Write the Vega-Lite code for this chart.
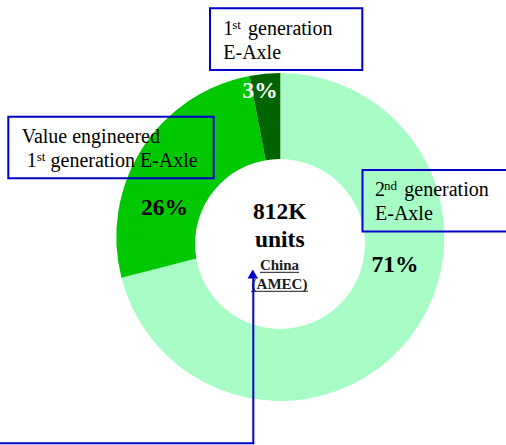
{
  "$schema": "https://vega.github.io/schema/vega-lite/v6.json",
  "width": 506,
  "height": 445,
  "padding": 0,
  "autosize": "none",
  "background": "white",
  "config": {"view": {"stroke": null}, "font": "'Liberation Serif', 'Times New Roman', 'DejaVu Serif', serif"},
  "datasets": {
    "slices": [
      {"segment": "2nd generation E-Axle", "share": 71, "ord": 1},
      {"segment": "Value engineered 1st generation E-Axle", "share": 26, "ord": 2},
      {"segment": "1st generation E-Axle", "share": 3, "ord": 3}
    ],
    "boxes": [
      {"x": 210, "x2": 362.3, "y": 8.3, "y2": 70},
      {"x": 8.3, "x2": 213.7, "y": 116.7, "y2": 178.3},
      {"x": 362.5, "x2": 520, "y": 170, "y2": 231.5}
    ],
    "labels": [
      {"t": "1", "x": 223.3, "y": 35},
      {"t": "generation", "x": 248, "y": 35},
      {"t": "E-Axle", "x": 223.3, "y": 58.5},
      {"t": "Value engineered", "x": 21.7, "y": 142.5},
      {"t": "1", "x": 26.7, "y": 166.5},
      {"t": "generation E-Axle", "x": 50.5, "y": 166.5},
      {"t": "2", "x": 375, "y": 196},
      {"t": "generation", "x": 404.3, "y": 196},
      {"t": "E-Axle", "x": 375, "y": 219.5}
    ],
    "sups": [
      {"t": "st", "x": 232.3, "y": 29},
      {"t": "st", "x": 36.7, "y": 160.5},
      {"t": "nd", "x": 384, "y": 190}
    ],
    "pctWhite": [
      {"t": "3%", "x": 260, "y": 98.3}
    ],
    "pctBlack": [
      {"t": "26%", "x": 164.5, "y": 215},
      {"t": "71%", "x": 395, "y": 271.7},
      {"t": "812K", "x": 279.7, "y": 219.3},
      {"t": "units", "x": 279.7, "y": 247.3}
    ],
    "small": [
      {"t": "China", "x": 279.5, "y": 270},
      {"t": "(AMEC)", "x": 279.5, "y": 289}
    ],
    "underlines": [
      {"x": 260, "x2": 299, "y": 272.3},
      {"x": 251, "x2": 308, "y": 291.3}
    ],
    "arrow": [
      {"x": 253.3, "x2": 253.3, "y": 443.3, "y2": 277},
      {"x": 0, "x2": 254.3, "y": 443.3, "y2": 443.3}
    ],
    "head": [{"x": 252.8, "y": 274}]
  },
  "layer": [
    {
      "data": {"name": "slices"},
      "mark": {"type": "arc", "outerRadius": 164, "stroke": null},
      "encoding": {
        "theta": {"field": "share", "type": "quantitative", "stack": true},
        "order": {"field": "ord", "type": "quantitative"},
        "color": {
          "field": "segment", "type": "nominal", "legend": null,
          "scale": {
            "domain": ["2nd generation E-Axle", "Value engineered 1st generation E-Axle", "1st generation E-Axle"],
            "range": ["#A6FCC4", "#00C800", "#006400"]
          }
        },
        "x": {"datum": 280.3, "type": "quantitative", "scale": {"domain": [0, 506], "nice": false, "zero": false}, "axis": null},
        "y": {"datum": 237, "type": "quantitative", "scale": {"domain": [0, 445], "nice": false, "zero": false, "reverse": true}, "axis": null}
      }
    },
    {
      "data": {"values": [{"hole": "center"}]},
      "mark": {"type": "point", "shape": "circle", "filled": true, "color": "white", "opacity": 1, "size": 28900, "strokeWidth": 0},
      "encoding": {
        "x": {"datum": 280, "type": "quantitative"},
        "y": {"datum": 244, "type": "quantitative"}
      }
    },
    {
      "data": {"name": "boxes"},
      "mark": {"type": "rect", "fill": null, "fillOpacity": 0, "stroke": "#0000CC", "strokeWidth": 2, "clip": true},
      "encoding": {
        "x": {"field": "x", "type": "quantitative"},
        "x2": {"field": "x2"},
        "y": {"field": "y", "type": "quantitative"},
        "y2": {"field": "y2"}
      }
    },
    {
      "data": {"name": "labels"},
      "mark": {"type": "text", "font": "'Liberation Serif', 'Times New Roman', 'DejaVu Serif', serif", "fontSize": 20, "align": "left", "baseline": "alphabetic", "color": "#000000"},
      "encoding": {
        "x": {"field": "x", "type": "quantitative"},
        "y": {"field": "y", "type": "quantitative"},
        "text": {"field": "t"}
      }
    },
    {
      "data": {"name": "sups"},
      "mark": {"type": "text", "font": "'Liberation Serif', 'Times New Roman', 'DejaVu Serif', serif", "fontSize": 13, "align": "left", "baseline": "alphabetic", "color": "#000000"},
      "encoding": {
        "x": {"field": "x", "type": "quantitative"},
        "y": {"field": "y", "type": "quantitative"},
        "text": {"field": "t"}
      }
    },
    {
      "data": {"name": "pctWhite"},
      "mark": {"type": "text", "font": "'Liberation Serif', 'Times New Roman', 'DejaVu Serif', serif", "fontSize": 23.5, "fontWeight": "bold", "align": "center", "baseline": "alphabetic", "color": "#FFFFFF"},
      "encoding": {
        "x": {"field": "x", "type": "quantitative"},
        "y": {"field": "y", "type": "quantitative"},
        "text": {"field": "t"}
      }
    },
    {
      "data": {"name": "pctBlack"},
      "mark": {"type": "text", "font": "'Liberation Serif', 'Times New Roman', 'DejaVu Serif', serif", "fontSize": 23.5, "fontWeight": "bold", "align": "center", "baseline": "alphabetic", "color": "#000000"},
      "encoding": {
        "x": {"field": "x", "type": "quantitative"},
        "y": {"field": "y", "type": "quantitative"},
        "text": {"field": "t"}
      }
    },
    {
      "data": {"name": "small"},
      "mark": {"type": "text", "font": "'Liberation Serif', 'Times New Roman', 'DejaVu Serif', serif", "fontSize": 15, "fontWeight": "bold", "align": "center", "baseline": "alphabetic", "color": "#1a1a1a"},
      "encoding": {
        "x": {"field": "x", "type": "quantitative"},
        "y": {"field": "y", "type": "quantitative"},
        "text": {"field": "t"}
      }
    },
    {
      "data": {"name": "underlines"},
      "mark": {"type": "rule", "color": "#1a1a1a", "strokeWidth": 1},
      "encoding": {
        "x": {"field": "x", "type": "quantitative"},
        "x2": {"field": "x2"},
        "y": {"field": "y", "type": "quantitative"}
      }
    },
    {
      "data": {"name": "arrow"},
      "mark": {"type": "rule", "color": "#0000CC", "strokeWidth": 2, "clip": true},
      "encoding": {
        "x": {"field": "x", "type": "quantitative"},
        "x2": {"field": "x2"},
        "y": {"field": "y", "type": "quantitative"},
        "y2": {"field": "y2"}
      }
    },
    {
      "data": {"name": "head"},
      "mark": {"type": "point", "shape": "triangle-up", "filled": true, "color": "#0000CC", "opacity": 1, "size": 110, "strokeWidth": 0},
      "encoding": {
        "x": {"field": "x", "type": "quantitative"},
        "y": {"field": "y", "type": "quantitative"}
      }
    }
  ]
}
